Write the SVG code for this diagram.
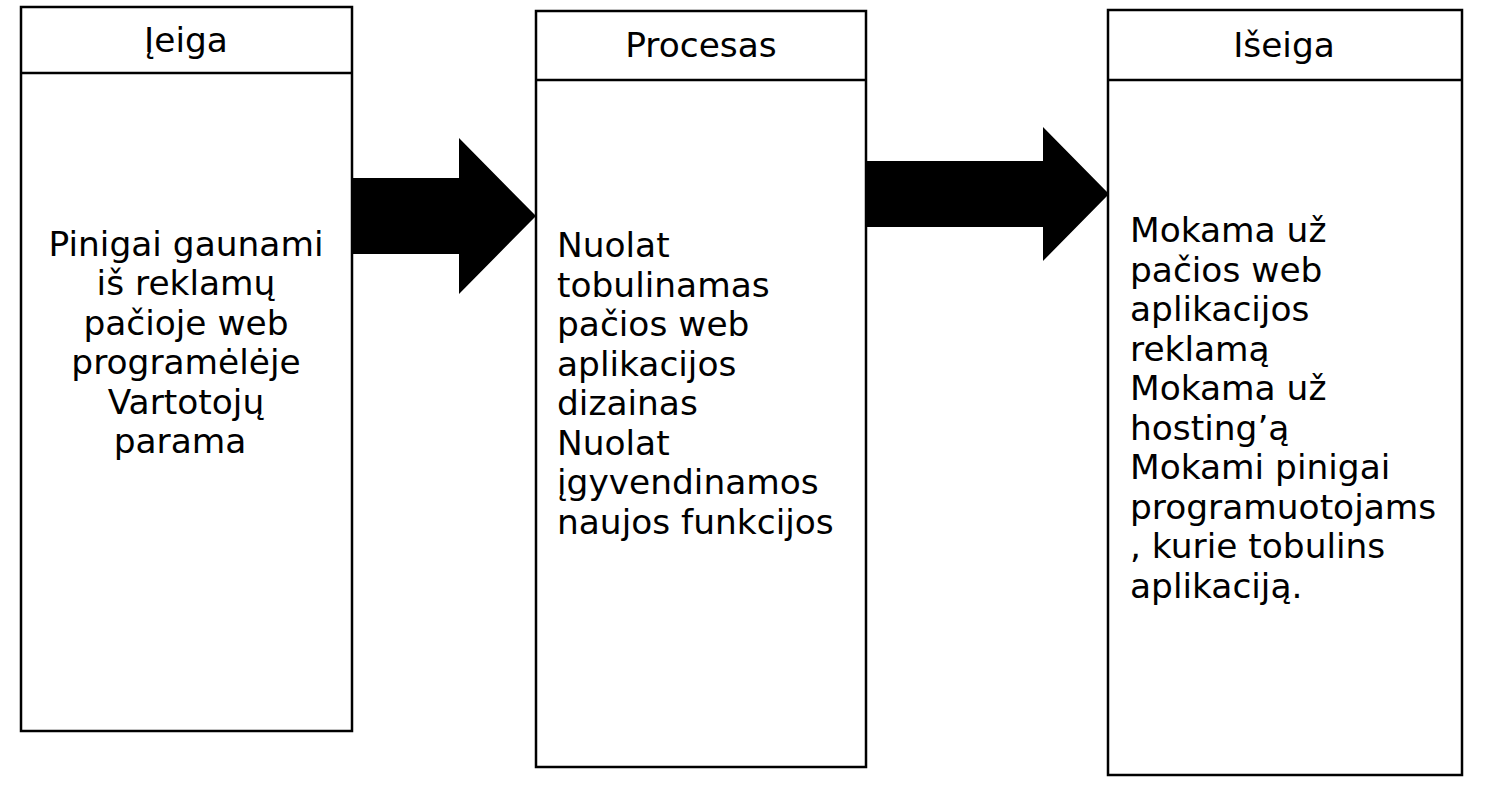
<svg xmlns="http://www.w3.org/2000/svg" width="1492" height="791" viewBox="0 0 1492 791">
<style>
.box{fill:#fff;stroke:#000;stroke-width:2.5}
.ln{stroke:#000;stroke-width:2.5}
text{font-family:"DejaVu Sans",sans-serif;font-size:34.4px;fill:#000}
.c{text-anchor:middle}
.arr{fill:#000}
</style>
<rect width="1492" height="791" fill="#fff"/>
<g id="connectors">
<polygon class="arr" points="352,178 459,178 459,138 536,216 459,294 459,254 352,254"/>
<polygon class="arr" points="866,161 1043,161 1043,127 1109,194 1043,261 1043,227 866,227"/>
</g>
<g id="ieiga">
<rect class="box" x="21" y="7" width="331" height="724"/>
<line class="ln" x1="21" y1="73" x2="352" y2="73"/>
<text class="c" x="186" y="52">Įeiga</text>
<text class="c" x="186" y="256">Pinigai gaunami</text>
<text class="c" x="186" y="295">iš reklamų</text>
<text class="c" x="186" y="335">pačioje web</text>
<text class="c" x="186" y="374">programėlėje</text>
<text class="c" x="186" y="414">Vartotojų</text>
<text class="c" x="180" y="453">parama</text>
</g>
<g id="procesas">
<rect class="box" x="536" y="11" width="330" height="756"/>
<line class="ln" x1="536" y1="80" x2="866" y2="80"/>
<text class="c" x="701" y="57">Procesas</text>
<text x="557" y="257">Nuolat</text>
<text x="557" y="297">tobulinamas</text>
<text x="557" y="336">pačios web</text>
<text x="557" y="376">aplikacijos</text>
<text x="557" y="415">dizainas</text>
<text x="557" y="455">Nuolat</text>
<text x="557" y="494">įgyvendinamos</text>
<text x="557" y="534">naujos funkcijos</text>
</g>
<g id="iseiga">
<rect class="box" x="1108" y="10" width="354" height="765"/>
<line class="ln" x1="1108" y1="80" x2="1462" y2="80"/>
<text class="c" x="1284" y="57">Išeiga</text>
<text x="1130" y="242">Mokama už</text>
<text x="1130" y="282">pačios web</text>
<text x="1130" y="321">aplikacijos</text>
<text x="1130" y="361">reklamą</text>
<text x="1130" y="400">Mokama už</text>
<text x="1130" y="440">hosting’ą</text>
<text x="1130" y="479">Mokami pinigai</text>
<text x="1130" y="519">programuotojams</text>
<text x="1130" y="558">, kurie tobulins</text>
<text x="1130" y="598">aplikaciją.</text>
</g>
</svg>
